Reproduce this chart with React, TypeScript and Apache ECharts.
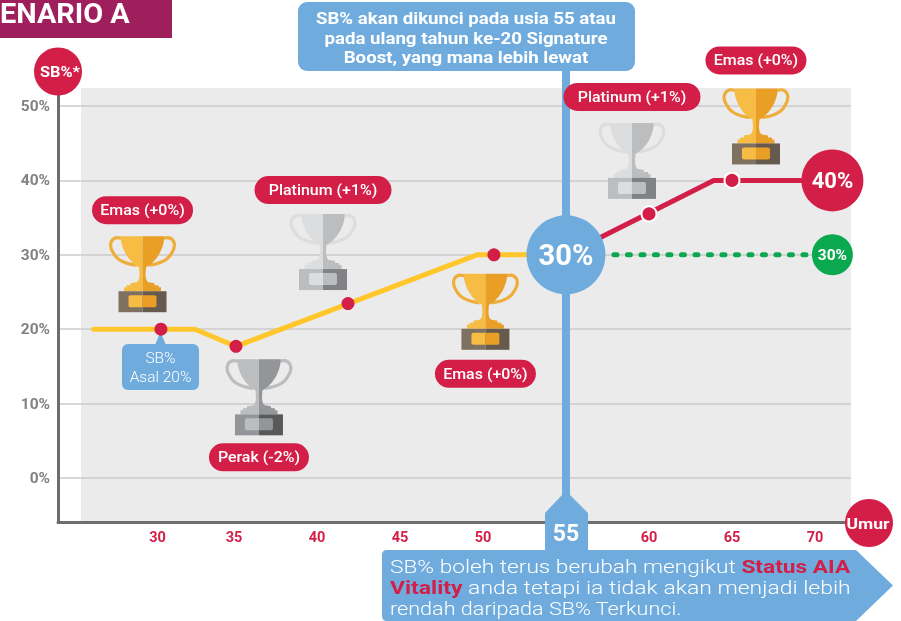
import React, { useEffect, useRef } from "react";
import * as echarts from "echarts";

const FONT = "Roboto";
const RED = "#D31F48";
const BLUE = "#6FACDD";
const YELLOW = "#FFC72C";
const GREEN = "#0AA84F";
const GREY = "#808285";

const yTicks = [0, 10, 20, 30, 40, 50];
// label anchors on the age scale (the "30" label sits slightly right of its scale position)
const xLabelPositions = [30.4, 35, 40, 45, 50, 60, 65, 70];
const lockedAge = 55;

const yellowAges = [26.55, 32.65, 35.12, 49.64, 55];
const yellowSb = [20, 20, 17.7, 30, 30];
const redAges = [55, 63.9, 71.05];
const redSb = [30, 40, 40];
const greenAges = [57.89, 71];
const greenSb = [30, 30];

const markerAges = [30.6, 35.12, 41.87, 50.66, 60, 65];
const markerSb = [20, 17.7, 23.45, 30, 35.5, 40];
const markerTiers = ["gold", "silver", "platinum", "gold", "platinum", "gold"];
const markerNames = ["Emas (+0%)", "Perak (-2%)", "Platinum (+1%)", "Emas (+0%)", "Platinum (+1%)", "Emas (+0%)"];

const badgeAges = [55, 71.05, 71.05];
const badgeSb = [30, 40, 30];
const badgeLabels = ["30%", "40%", "30%"];

// decoration layout, relative to each marker (pixels)
const trophyDx = [-18.4, 23, -25, -8.5, -17, 24];
const trophyDy = [-93, 13, -89.5, 19, -91, -92];
const pillDy = [-119, 111, -113.5, 119, -117, -120];

const tierColors: any = {
  gold: { l: "#F6BC43", d: "#E99E26", h: "#EEAE3C", bl: "#7F7160", bd: "#665A4E" },
  silver: { l: "#BCBDBF", d: "#939598", h: "#BCBDBF", bl: "#939598", bd: "#58595B" },
  platinum: { l: "#DCDDDE", d: "#BCBDBF", h: "#DCDDDE", bl: "#BCBDBF", bd: "#808285" },
};
const pillWidth: any = { gold: 101, silver: 100, platinum: 137 };

const halfCup =
  "M0 0 L-21.7 0 C-21.7 14 -12 27 -3.5 31 L-3 38 C-3 42 -4 45 -6 46 L-12 47 L-12 49 L-16 49 L-16 51 L-18.5 51 L-18.5 55 L0 55 Z";
const handle = "M-21 2 C-31 -1 -35 8 -29 17 C-25 25 -15 28 -6 29";

function trophy(t: string) {
  const c = tierColors[t];
  const mirror = (el: any) => ({ ...el, scaleX: -1 });
  const handleEl = {
    type: "path",
    shape: { pathData: handle },
    style: { fill: "none", stroke: c.h, lineWidth: 3.2 },
  };
  return [
    handleEl,
    mirror(handleEl),
    { type: "path", shape: { pathData: halfCup }, style: { fill: c.l } },
    mirror({ type: "path", shape: { pathData: halfCup }, style: { fill: c.d } }),
    { type: "rect", shape: { x: -24, y: 55, width: 24, height: 21 }, style: { fill: c.bl } },
    { type: "rect", shape: { x: 0, y: 55, width: 24, height: 21 }, style: { fill: c.bd } },
    { type: "rect", shape: { x: -14, y: 59, width: 14, height: 12, r: [2, 0, 0, 2] }, style: { fill: c.l } },
    { type: "rect", shape: { x: 0, y: 59, width: 14, height: 12, r: [0, 2, 2, 0] }, style: { fill: c.d } },
  ];
}

const noteD = "M387 550 L856 550 L893 585.5 L856 621 L387 621 Q382 621 382 616 L382 555 Q382 550 387 550 Z";

export default function App() {
  const ref = useRef<HTMLDivElement>(null);
  useEffect(() => {
    echarts.graphic.registerShape("noteBox", echarts.graphic.extendPath(noteD, {}));
    const chart = echarts.init(ref.current!, null, { renderer: "svg" });
    const axisLine = { show: true, onZero: false, lineStyle: { color: "#6D6E71", width: 3 } };
    const xMin = 24.4;
    const xMax = 72.17;
    const txt = (text: string, x: number, y: number, size: number, weight: any, extra: any = {}) => ({
      type: "text",
      x,
      y,
      z: 6,
      style: {
        text,
        font: `${weight} ${size}px ${FONT}`,
        fill: "#fff",
        align: "center",
        verticalAlign: "middle",
        ...extra,
      },
    });
    const boldRed = { b: { fontFamily: FONT, fontSize: 18, fontWeight: 700, color: RED, fill: RED } };
    chart.setOption({
      animation: false,
      grid: { left: 58, right: 50, top: 88, bottom: 99, containLabel: false },
      xAxis: [
        {
          type: "value",
          min: xMin,
          max: xMax,
          splitLine: { show: false },
          axisTick: { show: false },
          axisLine,
          axisLabel: {
            customValues: xLabelPositions,
            formatter: (v: number) => String(Math.round(v / 5) * 5),
            color: RED,
            fontFamily: FONT,
            fontWeight: 700,
            fontSize: 14.5,
            margin: 8,
          },
        },
        {
          type: "value",
          position: "bottom",
          min: xMin,
          max: xMax,
          z: 4,
          splitLine: { show: false },
          axisTick: { show: false },
          axisLine: { show: false },
          axisLabel: {
            customValues: [lockedAge],
            formatter: (v: number) => String(v),
            color: "#fff",
            fontFamily: FONT,
            fontWeight: 700,
            fontSize: 23,
            margin: 0,
          },
        },
      ],
      yAxis: {
        type: "value",
        min: -5.91,
        max: 52.42,
        splitNumber: 6,
        axisLine,
        axisTick: { show: false },
        splitLine: { show: true, showMinLine: false, showMaxLine: false, lineStyle: { color: "#CBCBCB", width: 1.5 } },
        axisLabel: {
          customValues: yTicks,
          formatter: "{value}%",
          color: GREY,
          fontFamily: FONT,
          fontWeight: 700,
          fontSize: 15.5,
          margin: 8,
        },
      },
      graphic: [
        { type: "rect", z: -1, shape: { x: 81, y: 88, width: 770, height: 434 }, style: { fill: "#EBEBEC" } },
        { type: "rect", z: 1, shape: { x: 562, y: 60, width: 8, height: 440 }, style: { fill: BLUE } },
        {
          type: "polygon",
          z: 1,
          shape: { points: [[562, 495], [570, 495], [588, 513], [588, 552], [545, 552], [545, 513]] },
          style: { fill: BLUE },
        },
        { type: "noteBox", z: 1, style: { fill: BLUE } },
        { type: "rect", z: 1, shape: { x: 298, y: 2, width: 337, height: 69, r: 9 }, style: { fill: BLUE } },
        { type: "rect", z: 1, shape: { x: 0, y: 0, width: 172, height: 38 }, style: { fill: "#9E1F5C" } },
        { ...txt("ENARIO A", 0, 14, 27, 700, { align: "left" }), scaleX: 1.07 },
        { ...txt("SB% akan dikunci pada usia 55 atau", 466, 18, 16.5, 700), scaleX: 1.13 },
        { ...txt("pada ulang tahun ke-20 Signature", 466, 38, 16.5, 700), scaleX: 1.13 },
        { ...txt("Boost, yang mana lebih lewat", 466, 57, 16.5, 700), scaleX: 1.13 },
        { type: "rect", z: 1, shape: { x: 122, y: 344, width: 77, height: 46, r: 6 }, style: { fill: BLUE } },
        { type: "polygon", z: 1, shape: { points: [[160.5, 332], [166, 345], [155, 345]] }, style: { fill: BLUE } },
        { ...txt("SB%", 160.5, 358, 15.5, 300) },
        { ...txt("Asal 20%", 160.5, 377, 15.5, 300) },
        { type: "circle", z: 5, shape: { cx: 58, cy: 71.5, r: 24 }, style: { fill: RED } },
        { ...txt("SB%*", 60, 72, 14.5, 700), scaleX: 1.13 },
        { type: "circle", z: 5, shape: { cx: 869, cy: 523, r: 24 }, style: { fill: RED } },
        { ...txt("Umur", 868, 524, 15, 700), scaleX: 1.17 },
        {
          ...txt("SB% boleh terus berubah mengikut {b|Status AIA}", 390, 567, 18, 300, { align: "left", rich: boldRed }),
          scaleX: 1.26,
        },
        {
          ...txt("{b|Vitality} anda tetapi ia tidak akan menjadi lebih", 390, 588, 18, 300, {
            align: "left",
            rich: boldRed,
          }),
          scaleX: 1.274,
        },
        { ...txt("rendah daripada SB% Terkunci.", 390, 609, 18, 300, { align: "left" }), scaleX: 1.2 },
      ],
      series: [
        {
          name: "SB% sebelum dikunci",
          type: "line",
          data: yellowAges.map((a, i) => [a, yellowSb[i]]),
          symbol: "none",
          z: 2,
          lineStyle: { color: YELLOW, width: 5, cap: "round" },
        },
        {
          name: "SB% tertinggi",
          type: "line",
          data: redAges.map((a, i) => [a, redSb[i]]),
          symbol: "none",
          z: 2,
          lineStyle: { color: RED, width: 5 },
        },
        {
          name: "SB% terkunci",
          type: "line",
          data: greenAges.map((a, i) => [a, greenSb[i]]),
          symbol: "none",
          z: 2,
          lineStyle: { color: GREEN, width: 5, cap: "round", type: [3, 10.5] },
        },
        {
          name: "Trofi",
          type: "custom",
          z: 2,
          clip: false,
          silent: true,
          data: markerAges.map((a, i) => [a, markerSb[i]]),
          renderItem: (params: any, api: any) => {
            const i = params.dataIndex;
            const p = api.coord([api.value(0), api.value(1)]);
            const tier = markerTiers[i];
            const w = pillWidth[tier];
            const cx = p[0] + trophyDx[i];
            return {
              type: "group",
              children: [
                { type: "group", x: cx, y: p[1] + trophyDy[i], children: trophy(tier) },
                {
                  type: "rect",
                  shape: { x: cx - w / 2, y: p[1] + pillDy[i] - 14, width: w, height: 28, r: 14 },
                  style: { fill: RED },
                },
                {
                  type: "text",
                  x: cx,
                  y: p[1] + pillDy[i],
                  scaleX: 1.1,
                  style: {
                    text: markerNames[i],
                    font: `500 14.5px ${FONT}`,
                    fill: "#fff",
                    align: "center",
                    verticalAlign: "middle",
                  },
                },
              ],
            };
          },
        },
        {
          name: "Penanda",
          type: "scatter",
          z: 3,
          symbolSize: 13,
          data: markerAges.map((a, i) => ({
            value: [a, markerSb[i]],
            itemStyle:
              i >= 4 ? { color: RED, opacity: 1, borderColor: "#fff", borderWidth: 2 } : { color: RED, opacity: 1 },
            symbolSize: i >= 4 ? 15 : 13,
          })),
        },
        {
          name: "Lencana",
          type: "scatter",
          z: 4,
          clip: false,
          data: badgeAges.map((a, i) => ({
            value: [a, badgeSb[i]],
            symbolSize: [79, 62, 41][i],
            itemStyle: { color: [BLUE, RED, GREEN][i], opacity: 1 },
            label: {
              show: true,
              position: "inside",
              formatter: badgeLabels[i],
              color: "#fff",
              fontFamily: FONT,
              fontWeight: 700,
              fontSize: [29, 22, 15.5][i],
            },
          })),
        },
      ],
    });
    return () => chart.dispose();
  }, []);
  return <div ref={ref} style={{ position: "fixed", left: 0, top: 0, width: 901, height: 621 }} />;
}
